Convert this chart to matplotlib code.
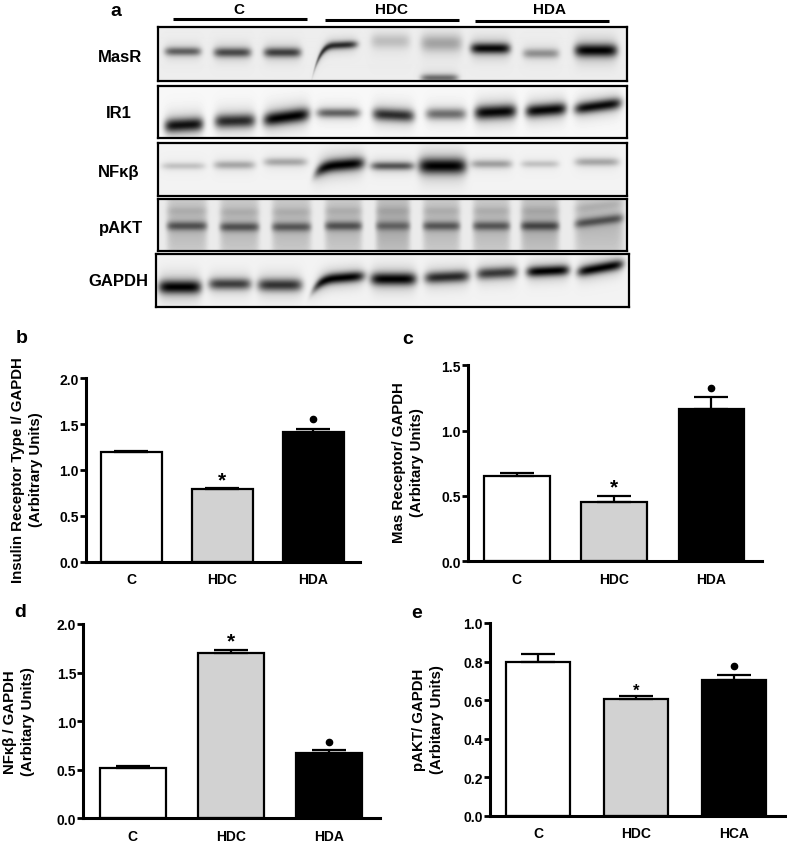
import numpy as np
from matplotlib import pyplot as plt

plt.rcParams['font.family'] = ['Liberation Sans', 'DejaVu Sans']
plt.rcParams['font.weight'] = 'bold'

W, H = 787, 845

# band strength read per lane, C x3, HDC x3, HDA x3
masr_dark = [0.55, 0.65, 0.7, 0.8, 0.17, 0.27, 0.97, 0.35, 1.0]
ir1_dark = [0.92, 0.8, 1.0, 0.55, 0.78, 0.5, 0.97, 0.97, 0.95]
nfkb_dark = [0.17, 0.27, 0.27, 1.0, 0.6, 1.0, 0.3, 0.17, 0.27]
pakt_dark = [0.55, 0.55, 0.52, 0.55, 0.42, 0.52, 0.52, 0.6, 0.55]
gapdh_dark = [1.0, 0.7, 0.75, 1.0, 1.0, 0.8, 0.72, 1.0, 1.0]

# lane extents and band heights in picture pixels
masr_x = [(165, 201), (214, 251), (264, 301), (316, 357), (371, 410), (421, 462), (471, 510), (523, 559), (575, 617)]
masr_y = [53, 54, 54, 47, 43, 45, 50, 55, 52]
masr_t = [4, 4.5, 4.5, 3.5, 7, 8, 5, 4.5, 6]
masr_tilt = [0, 0, 0, -1, 0, 0, 0, 0, 0]
masr_droop = [0, 0, 0, 18, 0, 0, 0, 0, 0]

ir1_x = [(165, 203), (215, 255), (264, 309), (317, 360), (373, 414), (426, 466), (475, 516), (526, 566), (575, 621)]
ir1_y = [126, 122, 118, 114, 116, 115, 113, 111, 107]
ir1_t = [6.5, 6.5, 6.5, 4.5, 6, 5.5, 6.5, 6, 5.5]
ir1_tilt = [-1, -0.5, -3, 0, 1, 0, -1, -1.5, -3]

nfkb_x = [(162, 205), (214, 255), (264, 307), (316, 364), (371, 414), (419, 466), (471, 512), (521, 559), (575, 619)]
nfkb_y = [167, 166, 163, 166, 167, 167, 165, 165, 163]
nfkb_t = [3.5, 4, 4, 6, 4, 7.5, 4, 3.5, 4]
nfkb_tilt = [0, 0, 0, -2, 0, 0, 0, 0, 0]
nfkb_droop = [0, 0, 0, 6, 0, 0, 0, 0, 0]

pakt_x = [(167, 207), (220, 259), (272, 311), (325, 362), (376, 410), (423, 460), (473, 510), (521, 559), (575, 623)]
pakt_y = [227, 228, 228, 227, 227, 227, 227, 227, 222]
pakt_shade = [0.2, 0.2, 0.2, 0.2, 0.26, 0.2, 0.2, 0.24, 0.2]
pakt_tilt = [0, 0, 0, 0, 0, 0, 0, 0, -3]

gapdh_x = [(159, 201), (209, 251), (258, 302), (314, 364), (371, 416), (425, 469), (477, 517), (527, 569), (578, 623)]
gapdh_y = [288, 285, 286, 279, 280, 278, 274, 272, 269]
gapdh_t = [6.5, 5.5, 6, 5, 6, 5.5, 5.5, 5, 5]
gapdh_tilt = [0, 0, 0, -2, 0, -1, -1, -1, -4]
gapdh_droop = [0, 0, 0, 9, 0, 0, 0, 0, 0]

row_labels = ['MasR', 'IR1', 'NF\u03ba\u03b2', 'pAKT', 'GAPDH']
row_label_xy = [(120, 57), (119, 113), (119, 172), (121, 228), (118, 282)]

groups = ['C', 'HDC', 'HDA']
groups_e = ['C', 'HDC', 'HCA']
group_lines = [(173, 307, 20), (325, 459, 20.5), (475, 609, 21.5)]
group_text_x = [239, 391, 549]

ir_vals = [1.2, 0.79, 1.41]
ir_err = [0.012, 0.01, 0.04]
mas_vals = [0.65, 0.455, 1.165]
mas_err = [0.025, 0.045, 0.095]
nf_vals = [0.52, 1.70, 0.67]
nf_err = [0.02, 0.03, 0.03]
akt_vals = [0.797, 0.607, 0.705]
akt_err = [0.04, 0.017, 0.027]

bar_colors = ['white', '#d2d2d2', 'black']


def px_rect(left, right, top, bottom):
    return [left / W, 1 - bottom / H, (right - left) / W, (bottom - top) / H]


def add_band(img, box, lane, yc, dark, thick, tilt=0, droop=0, sharp=6, halo=0.22):
    left, right, top, bottom = box
    xx, yy = np.meshgrid(np.arange(left, right) + 0.5, np.arange(top, bottom) + 0.5)
    xc = (lane[0] + lane[1]) / 2
    hw = (lane[1] - lane[0]) / 2
    u = (xx - xc) / hw
    centre = yc + tilt * u + droop * np.clip(-u, 0, None) ** 3
    across = np.exp(-np.abs(u) ** sharp)
    prof = across * np.exp(-((yy - centre) / thick) ** 2)
    # soft smear around the dark core of the band
    soft = across * np.exp(-((yy - centre) / (thick * 2.2)) ** 2)
    return img * (1 - dark * prof) * (1 - halo * dark * soft)


def show_blot(box, img):
    left, right, top, bottom = box
    ax = fig.add_axes(px_rect(left, right, top, bottom))
    ax.imshow(img, cmap='gray', vmin=0, vmax=1, extent=(left, right, bottom, top),
              aspect='auto', interpolation='bilinear')
    ax.set_xticks([])
    ax.set_yticks([])
    for s in ax.spines.values():
        s.set_linewidth(1.6)
    return ax


fig = plt.figure(figsize=(W / 100, H / 100), dpi=100)

# blots, top to bottom
box = (158, 627, 28, 82)
img = np.full((box[3] - box[2], box[1] - box[0]), 0.93)
for i in range(9):
    img = add_band(img, box, masr_x[i], masr_y[i], masr_dark[i], masr_t[i], masr_tilt[i], masr_droop[i])
img = add_band(img, box, (421, 458), 79, 0.5, 3.5)
show_blot(box, img)

box = (158, 627, 87, 139)
img = np.full((box[3] - box[2], box[1] - box[0]), 0.97)
for i in range(9):
    img = add_band(img, box, ir1_x[i], ir1_y[i], ir1_dark[i], ir1_t[i], ir1_tilt[i])
show_blot(box, img)

box = (158, 627, 144, 197)
img = np.full((box[3] - box[2], box[1] - box[0]), 0.95)
for i in range(9):
    img = add_band(img, box, nfkb_x[i], nfkb_y[i], nfkb_dark[i], nfkb_t[i], nfkb_tilt[i], nfkb_droop[i])
show_blot(box, img)

box = (158, 627, 200, 252)
img = np.full((box[3] - box[2], box[1] - box[0]), 0.92)
for i in range(9):
    img = add_band(img, box, pakt_x[i], 226, pakt_shade[i], 45, sharp=8, halo=0)
    img = add_band(img, box, pakt_x[i], pakt_y[i] - 15, 0.1, 4.5, pakt_tilt[i], halo=0)
    img = add_band(img, box, pakt_x[i], pakt_y[i], pakt_dark[i], 4.5, pakt_tilt[i], sharp=8, halo=0.1)
show_blot(box, img)

box = (156, 629, 255, 308)
img = np.full((box[3] - box[2], box[1] - box[0]), 0.95)
for i in range(9):
    img = add_band(img, box, gapdh_x[i], gapdh_y[i], gapdh_dark[i], gapdh_t[i], gapdh_tilt[i], gapdh_droop[i])
show_blot(box, img)

# overlay in pixel units for the blot labels
over = fig.add_axes([0, 0, 1, 1], zorder=5)
over.set_xlim(0, W)
over.set_ylim(H, 0)
over.axis('off')
over.patch.set_alpha(0)

for lab, (x, y) in zip(row_labels, row_label_xy):
    over.text(x, y, lab, ha='center', va='center', fontsize=12)
for g, (x0, x1, y), tx in zip(groups, group_lines, group_text_x):
    over.plot([x0, x1], [y, y], color='black', lw=2.2, solid_capstyle='butt')
    over.text(tx, 10, g, ha='center', va='center', fontsize=11)

for lab, x, y in [('a', 116, 12), ('b', 22, 339), ('c', 408, 340), ('d', 20, 613), ('e', 417, 614)]:
    over.text(x, y, lab, ha='center', va='center', fontsize=14)

ylabs = [('Insulin Receptor Type I/ GAPDH\n(Arbitrary Units)', 27, 470),
         ('Mas Receptor/ GAPDH\n(Arbitary Units)', 408, 463),
         ('NF\u03ba\u03b2 / GAPDH\n(Arbitary Units)', 19, 722),
         ('pAKT/ GAPDH\n(Arbitary Units)', 428, 720)]
for lab, x, y in ylabs:
    over.text(x, y, lab, rotation=90, ha='center', va='center', ma='center',
              fontsize=10.8, linespacing=1.4)


def bar_panel(rect, first, step, width, vals, err, names, ymax, yticks, fmt, star, dot, star_size=15):
    ax = fig.add_axes(px_rect(*rect))
    ax.set_xlim((rect[0] - first) / step, (rect[1] - first) / step)
    ax.set_ylim(0, ymax)
    pos = [0, 1, 2]
    ax.bar(pos, vals, width=width / step, color=bar_colors, edgecolor='black', linewidth=1.6)
    ax.errorbar(pos, vals, yerr=[[0, 0, 0], err], fmt='none', ecolor='black',
                elinewidth=1.6, capsize=12, capthick=1.6)
    for s in ['top', 'right']:
        ax.spines[s].set_visible(False)
    ax.spines['left'].set_linewidth(2.2)
    ax.spines['bottom'].set_linewidth(2.2)
    ax.set_xticks(pos)
    ax.set_xticklabels(names, fontsize=10)
    ax.set_yticks(yticks)
    ax.set_yticklabels([fmt % t for t in yticks], fontsize=10)
    ax.tick_params(axis='x', length=0, pad=7.5)
    ax.tick_params(axis='y', length=4, width=2, pad=1)
    ax.text(1, star, '*', ha='center', va='center', fontsize=star_size)
    ax.plot([2], [dot], 'o', color='black', ms=4.5)
    ax.patch.set_alpha(0)
    return ax


bar_panel((86, 360, 379.3, 562.7), 131.2, 91, 61, ir_vals, ir_err, groups, 2.0,
          [0, 0.5, 1.0, 1.5, 2.0], '%.1f', 0.89, 1.56)
bar_panel((467.7, 761.7, 366.3, 562.3), 516.8, 97.3, 65.5, mas_vals, mas_err, groups, 1.5,
          [0, 0.5, 1.0, 1.5], '%.1f', 0.57, 1.33)
bar_panel((83.3, 380, 625, 819.3), 132.8, 98.2, 66, nf_vals, nf_err, groups, 2.0,
          [0, 0.5, 1.0, 1.5, 2.0], '%.1f', 1.83, 0.79)
bar_panel((489.7, 785, 624, 817), 538, 98, 64, akt_vals, akt_err, groups_e, 1.0,
          [0, 0.2, 0.4, 0.6, 0.8, 1.0], '%.1f', 0.652, 0.775, star_size=12)

fig.savefig('out.png', dpi=100)
